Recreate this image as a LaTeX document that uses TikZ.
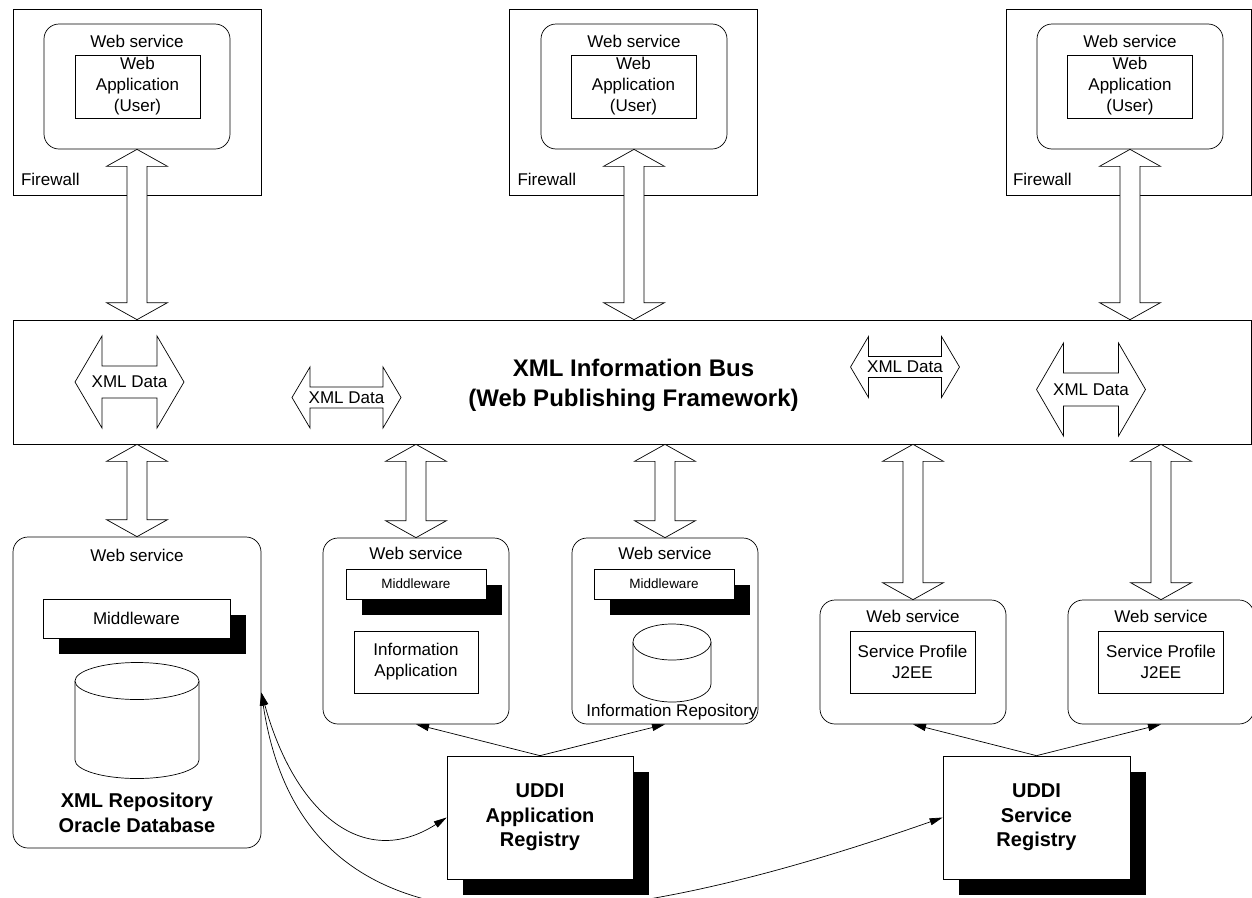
\documentclass[tikz,border=0pt]{standalone}
\usepackage{fontspec}
\setmainfont{Liberation Sans}
\usetikzlibrary{arrows.meta,shadows,calc,positioning}

\newcommand{\regsize}{\fontsize{17}{21}\selectfont}
\newcommand{\mwsize}{\fontsize{13.5}{16}\selectfont}
\newcommand{\boldsize}{\fontsize{20}{24.5}\selectfont\bfseries}
\newcommand{\bussize}{\fontsize{24}{30}\selectfont\bfseries}

\newcommand{\busarrow}[2]{%
  \draw[fill=white] let \p1=#1, \p2=#2 in
    (\x1,\y1) -- (\x1+30.5pt,\y1-17pt) -- (\x1+10pt,\y1-17pt) -- (\x1+10pt,\y2+17pt)
    -- (\x1+30.5pt,\y2+17pt) -- (\x1,\y2) -- (\x1-30.5pt,\y2+17pt) -- (\x1-10pt,\y2+17pt)
    -- (\x1-10pt,\y1-17pt) -- (\x1-30.5pt,\y1-17pt) -- cycle;}

\newcommand{\xmldata}[5]{%
  \draw[fill=white] ($#2+(-54.5,0)$) -- ++(#3,-#4) -- ++(0,#4-#5) -- ++(109-2*#3,0)
    -- ++(0,#5-#4) -- ++(#3,#4) -- ++(-#3,#4) -- ++(0,#5-#4) -- ++(2*#3-109,0)
    -- ++(0,#4-#5) -- cycle;
  \node (#1) at #2 {XML Data};}

\tikzset{
  box/.style={draw, fill=white},
  wsbox/.style={box, rounded corners=15pt},
  firewall/.style={box, minimum width=248pt, minimum height=186pt},
  wstop/.style={wsbox, minimum width=186pt, minimum height=125pt},
  inner box/.style={box, minimum width=125pt, minimum height=62pt, align=center},
  blackshadow/.style={general shadow={fill=black, shadow xshift=16pt, shadow yshift=-16pt}},
  uddi/.style={box, blackshadow, minimum width=186pt, minimum height=123pt, align=center, font=\boldsize},
}

\begin{document}
\begin{tikzpicture}[x=1pt,y=-1pt,line width=0.7pt,>={Stealth[length=13pt,width=7pt,inset=0pt]},
  every node/.style={inner sep=0pt, font=\regsize}]
  \fill[white] (0,0) rectangle (1252,897);
  \useasboundingbox (0,0) rectangle (1252,897);

  % user side
  \node[firewall] (fwA) at (137,102) {};
  \node[firewall] (fwB) at (633.5,102) {};
  \node[firewall, minimum width=245pt] (fwC) at (1128.5,102) {};
  \node[anchor=south west] (fwAt) at ([shift={(8pt,9pt)}]fwA.south west) {Firewall};
  \node[anchor=south west] (fwBt) at ([shift={(8pt,9pt)}]fwB.south west) {Firewall};
  \node[anchor=south west] (fwCt) at ([shift={(7pt,9pt)}]fwC.south west) {Firewall};
  \node[wstop] (wsA) at (137,86.5) {};
  \node[wstop] (wsB) at (634,86.5) {};
  \node[wstop] (wsC) at (1130,86.5) {};
  \node (wsAt) at (137,41) {Web service};
  \node (wsBt) at (634,41) {Web service};
  \node (wsCt) at (1130,41) {Web service};
  \node[inner box, minimum height=63pt] (appA) at (137.5,86.5) {Web\\Application\\(User)};
  \node[inner box, minimum height=63pt] (appB) at (633.5,86.5) {Web\\Application\\(User)};
  \node[inner box, minimum height=63pt] (appC) at (1130,86.5) {Web\\Application\\(User)};

  % bus
  \node[box, minimum width=1238pt, minimum height=124pt] (bus) at (632,382) {};
  \node[font=\bussize, align=center] (bustitle) at (633.5,385) {XML Information Bus\\(Web Publishing Framework)};
  \xmldata{xmlA}{(129.5,382)}{27}{46}{16}
  \xmldata{xmlB}{(346.5,397.5)}{18}{30.5}{10.5}
  \xmldata{xmlC}{(905,367)}{18}{30.5}{10.5}
  \xmldata{xmlD}{(1091,389.5)}{27}{46.5}{16.5}

  % repository
  \node[wsbox, minimum width=248pt, minimum height=311pt] (wsD) at (137,692.5) {};
  \node (wsDt) at (137,555) {Web service};
  \node[box, blackshadow, minimum width=187pt, minimum height=39pt] (mwD) at (136.5,618.5) {Middleware};
  \draw[fill=white] (75,681) -- (75,760) arc[start angle=180, end angle=360, x radius=62pt, y radius=18.5pt] -- (199,681);
  \draw[fill=white] (137,681) ellipse[x radius=62pt, y radius=18.5pt];
  \node[font=\boldsize, align=center] (repo) at (137,813) {XML Repository\\Oracle Database};

  % information services
  \node[wsbox, minimum width=186pt, minimum height=186pt] (wsE) at (416,631) {};
  \node (wsEt) at (416,553) {Web service};
  \node[box, blackshadow, minimum width=140pt, minimum height=30pt, font=\mwsize] (mwE) at (416,584) {Middleware};
  \node[inner box, minimum width=124pt] (infoapp) at (416,662) {Information\\Application};
  \node[wsbox, minimum width=186pt, minimum height=186pt] (wsF) at (665,631) {};
  \node (wsFt) at (665,553) {Web service};
  \node[box, blackshadow, minimum width=140pt, minimum height=30pt, font=\mwsize] (mwF) at (664,584) {Middleware};
  \draw[fill=white] (633,642) -- (633,684) arc[start angle=180, end angle=360, x radius=39pt, y radius=18pt] -- (711,642);
  \draw[fill=white] (672,642) ellipse[x radius=39pt, y radius=18pt];
  \node (inforepo) at (672,712) {Information Repository};

  % service profiles
  \node[wsbox, minimum width=186pt, minimum height=124pt] (wsG) at (913,662) {};
  \node (wsGt) at (913,616) {Web service};
  \node[inner box] (profG) at (912.5,662) {Service Profile\\J2EE};
  \node[wsbox, minimum width=186pt, minimum height=124pt] (wsH) at (1161,662) {};
  \node (wsHt) at (1161,616) {Web service};
  \node[inner box] (profH) at (1161,662) {Service Profile\\J2EE};

  % registries
  \node[uddi] (uddiA) at (540,817.5) {UDDI\\Application\\Registry};
  \node[uddi, minimum width=187pt] (uddiS) at (1036.5,817.5) {UDDI\\Service\\Registry};

  \busarrow{(wsA.south)}{(wsA.south |- bus.north)}
  \busarrow{(wsB.south)}{(wsB.south |- bus.north)}
  \busarrow{(wsC.south)}{(wsC.south |- bus.north)}
  \busarrow{(bus.south -| wsD.north)}{(wsD.north)}
  \busarrow{(bus.south -| wsE.north)}{(wsE.north)}
  \busarrow{(bus.south -| wsF.north)}{(wsF.north)}
  \busarrow{(bus.south -| wsG.north)}{(wsG.north)}
  \busarrow{(bus.south -| wsH.north)}{(wsH.north)}

  \draw[->] (uddiA.north) -- (wsE.south);
  \draw[->] (uddiA.north) -- (wsF.south);
  \draw[->] (uddiS.north) -- (wsG.south);
  \draw[->] (uddiS.north) -- (wsH.south);
  \draw[<->] (wsD.east) .. controls +(34,122.5) and +(-82,52.5) .. (uddiA.west);
  \draw[<->] (wsD.east) .. controls +(39,260) and +(-400,140) .. (uddiS.west);
\end{tikzpicture}
\end{document}
